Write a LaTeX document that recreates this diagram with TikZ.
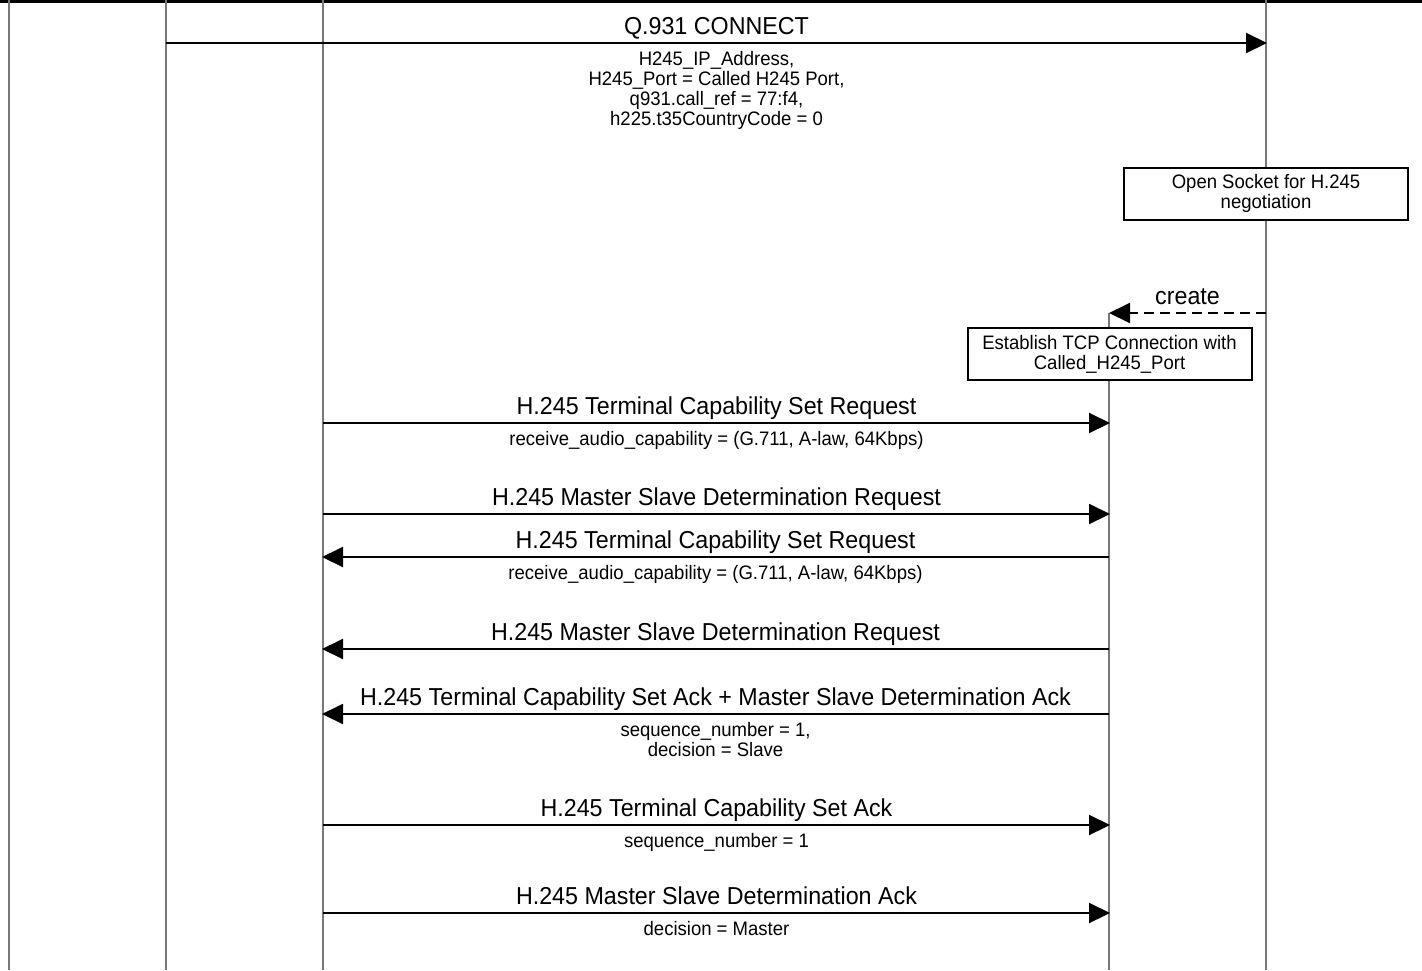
\documentclass[tikz,border=0pt]{standalone}
\usepackage{fontspec}
\setmainfont{Liberation Sans}[FakeStretch=0.95]
\usetikzlibrary{arrows.meta}
\newcommand{\mainsz}{\fontsize{12.25pt}{14pt}\selectfont}
\newcommand{\smallsz}{\fontsize{9.75pt}{10pt}\selectfont}
\begin{document}
\begin{tikzpicture}[x=0.5pt,y=-0.5pt,
  life/.style={draw={rgb,255:red,120;green,120;blue,120}, line width=0.7pt},
  msg/.style={draw=black, line width=1pt, -{Triangle[length=10.5pt,width=10pt]}},
  createmsg/.style={msg, dash pattern=on 5pt off 3pt},
  toplbl/.style={anchor=base, yshift=4.3pt, inner sep=0pt, font=\mainsz},
  sublbl/.style={anchor=north, yshift=-3.6pt, inner sep=0pt, align=center, font=\smallsz},
  actbox/.style={draw=black, line width=1pt, fill=white, minimum width=142pt, minimum height=26pt, inner sep=0pt, align=center, font=\smallsz}
]
\useasboundingbox (0,0) rectangle (1422,970);
% frame top line
\coordinate (T0) at (0,1.5);
\coordinate (T1) at (1422,1.5);
\draw[line width=1.5pt] (T0) -- (T1);
% lifelines
\coordinate (LA0) at (9,0);    \coordinate (LA1) at (9,970);
\coordinate (LB0) at (166,0);  \coordinate (LB1) at (166,970);
\coordinate (LC0) at (323,0);  \coordinate (LC1) at (323,970);
\coordinate (LE0) at (1266,0); \coordinate (LE1) at (1266,970);
\coordinate (LD0) at (1109,313); \coordinate (LD1) at (1109,970);
\draw[life] (LA0) -- (LA1);
\draw[life] (LB0) -- (LB1);
\draw[life] (LC0) -- (LC1);
\draw[life] (LE0) -- (LE1);
\draw[life] (LD0) -- (LD1);
% message coordinates
\coordinate (m1s) at (166,43);  \coordinate (m1e) at (1267,43);
\coordinate (cs) at (1266,313);
\coordinate (m2s) at (323,423); \coordinate (m2e) at (1110,423);
\coordinate (m3s) at (323,514); \coordinate (m3e) at (1110,514);
\coordinate (m4s) at (1109,557); \coordinate (m4e) at (322,557);
\coordinate (m5s) at (1109,649); \coordinate (m5e) at (322,649);
\coordinate (m6s) at (1109,714); \coordinate (m6e) at (322,714);
\coordinate (m7s) at (323,825); \coordinate (m7e) at (1110,825);
\coordinate (m8s) at (323,913); \coordinate (m8e) at (1110,913);
% messages
\draw[msg] (m1s) -- node[toplbl] (l1) {Q.931 CONNECT}
  node[sublbl] (s1) {H245\_IP\_Address,\\H245\_Port = Called H245 Port,\\q931.call\_ref = 77:f4,\\h225.t35CountryCode = 0} (m1e);
\node[actbox] (sock) at (1266,193.5) {Open Socket for H.245\\negotiation};
\draw[createmsg] (cs) -- node[toplbl] (lc) {create} (LD0);
\node[actbox] (tcp) at (1109.5,354) {Establish TCP Connection with\\Called\_H245\_Port};
\draw[msg] (m2s) -- node[toplbl] (l2) {H.245 Terminal Capability Set Request}
  node[sublbl] (s2) {receive\_audio\_capability = (G.711, A-law, 64Kbps)} (m2e);
\draw[msg] (m3s) -- node[toplbl] (l3) {H.245 Master Slave Determination Request} (m3e);
\draw[msg] (m4s) -- node[toplbl] (l4) {H.245 Terminal Capability Set Request}
  node[sublbl] (s4) {receive\_audio\_capability = (G.711, A-law, 64Kbps)} (m4e);
\draw[msg] (m5s) -- node[toplbl] (l5) {H.245 Master Slave Determination Request} (m5e);
\draw[msg] (m6s) -- node[toplbl] (l6) {H.245 Terminal Capability Set Ack + Master Slave Determination Ack}
  node[sublbl] (s6) {sequence\_number = 1,\\decision = Slave} (m6e);
\draw[msg] (m7s) -- node[toplbl] (l7) {H.245 Terminal Capability Set Ack}
  node[sublbl] (s7) {sequence\_number = 1} (m7e);
\draw[msg] (m8s) -- node[toplbl] (l8) {H.245 Master Slave Determination Ack}
  node[sublbl] (s8) {decision = Master} (m8e);
\end{tikzpicture}
\end{document}
